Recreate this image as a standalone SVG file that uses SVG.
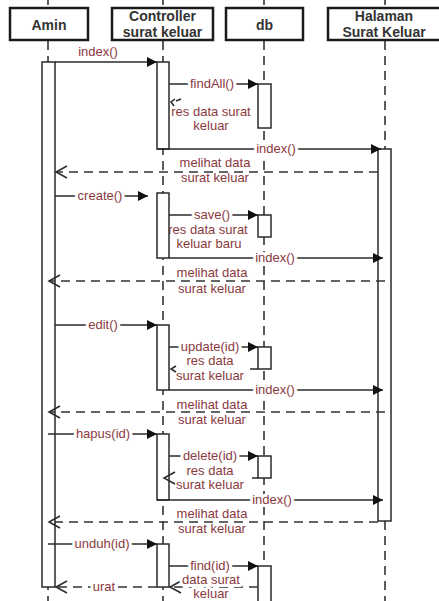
<svg xmlns="http://www.w3.org/2000/svg" width="439" height="601" viewBox="0 0 439 601">
<defs>
<style>
.box{fill:#fff;stroke:#1a1a1a;stroke-width:2.5}
.hd{font-family:"Liberation Sans",Arial,sans-serif;font-size:14px;font-weight:bold;fill:#333;text-anchor:middle}
.life{stroke:#333;stroke-width:1.6;stroke-dasharray:9 6;fill:none}
.act{fill:#fff;stroke:#2a2a2a;stroke-width:1.5}
.msg{stroke:#2a2a2a;stroke-width:1.5;fill:none}
.ret{stroke:#333;stroke-width:1.5;fill:none;stroke-dasharray:9 6}
.lb{font-family:"Liberation Sans",Arial,sans-serif;font-size:13px;fill:#8a3a3e;text-anchor:middle}
.on{paint-order:stroke;stroke:#fff;stroke-width:6px;stroke-linejoin:round}
</style>
<marker id="sync" viewBox="0 0 10 10" refX="10" refY="5" markerWidth="10" markerHeight="10" markerUnits="userSpaceOnUse" orient="auto">
<path d="M0,0 L10,5 L0,10 Z" fill="#111"/>
</marker>
</defs>
<rect width="439" height="601" fill="#fff"/>

<g id="lifelines">
<line class="life" x1="48" y1="0" x2="48" y2="5"/>
<line class="life" x1="163" y1="0" x2="163" y2="5"/>
<line class="life" x1="264" y1="0" x2="264" y2="5"/>
<line class="life" x1="385" y1="0" x2="385" y2="5"/>
<line class="life" x1="48" y1="41" x2="48" y2="601"/>
<line class="life" x1="163" y1="41" x2="163" y2="601"/>
<line class="life" x1="264" y1="41" x2="264" y2="601"/>
<line class="life" x1="385" y1="41" x2="385" y2="601"/>
</g>

<g id="amin">
<rect class="box" x="10" y="8" width="78" height="32"/>
<text class="hd" x="49" y="30">Amin</text>
<rect class="act" x="42" y="62" width="13" height="525"/>
</g>
<g id="controller">
<rect class="box" x="112" y="8" width="101" height="32"/>
<text class="hd" x="162.5" y="21">Controller</text>
<text class="hd" x="162.5" y="37">surat keluar</text>
<rect class="act" x="157" y="62" width="12" height="87"/>
<rect class="act" x="157" y="193" width="12" height="65"/>
<rect class="act" x="157" y="325" width="12" height="65"/>
<rect class="act" x="157" y="434" width="12" height="66"/>
<rect class="act" x="157" y="544" width="12" height="43"/>
</g>
<g id="db">
<rect class="box" x="226" y="8" width="77" height="32"/>
<text class="hd" x="264.5" y="30">db</text>
<rect class="act" x="258" y="84" width="13" height="44"/>
<rect class="act" x="258" y="215" width="13" height="22"/>
<rect class="act" x="258" y="347" width="13" height="22"/>
<rect class="act" x="258" y="456" width="13" height="22"/>
<rect class="act" x="258" y="566" width="13" height="40"/>
</g>
<g id="halaman">
<rect class="box" x="328" y="8" width="114" height="32"/>
<text class="hd" x="384" y="21">Halaman</text>
<text class="hd" x="384" y="37">Surat Keluar</text>
<rect class="act" x="378" y="149" width="13" height="372"/>
</g>

<g id="connectors">
<line class="msg" x1="55" y1="62" x2="157" y2="62" marker-end="url(#sync)"/>
<text class="lb" x="98" y="56">index()</text>

<line class="msg" x1="169" y1="84" x2="258" y2="84" marker-end="url(#sync)"/>
<text class="lb on" x="212" y="88">findAll()</text>
<path class="msg" d="M175,99 L171,102 L174,106"/>
<line class="msg" x1="176" y1="101" x2="181" y2="99"/>
<text class="lb" x="211" y="116">res data surat</text>
<text class="lb" x="211" y="130">keluar</text>

<line class="msg" x1="157" y1="149" x2="381" y2="149" marker-end="url(#sync)"/>
<text class="lb on" x="276" y="153">index()</text>

<line class="ret" x1="378" y1="172" x2="56" y2="172"/>
<path class="msg" d="M67,166 L56,172 L67,178"/>
<text class="lb" x="215" y="167">melihat data</text>
<text class="lb" x="215" y="182">surat keluar</text>

<line class="msg" x1="55" y1="196" x2="148" y2="196" marker-end="url(#sync)"/>
<text class="lb on" x="100" y="200">create()</text>

<line class="msg" x1="169" y1="215" x2="258" y2="215" marker-end="url(#sync)"/>
<text class="lb on" x="212" y="219">save()</text>
<text class="lb" x="208" y="234">res data surat</text>
<text class="lb" x="209" y="248">keluar baru</text>

<line class="msg" x1="169" y1="258" x2="383" y2="258" marker-end="url(#sync)"/>
<text class="lb on" x="275" y="262">index()</text>

<line class="ret" x1="385" y1="281" x2="49" y2="281"/>
<path class="msg" d="M60,275 L49,281 L60,287"/>
<text class="lb" x="212" y="277">melihat data</text>
<text class="lb" x="212" y="293">surat keluar</text>

<line class="msg" x1="55" y1="325" x2="157" y2="325" marker-end="url(#sync)"/>
<text class="lb on" x="103" y="329">edit()</text>

<line class="msg" x1="169" y1="347" x2="258" y2="347" marker-end="url(#sync)"/>
<text class="lb on" x="210" y="351">update(id)</text>
<path class="msg" d="M176,366 L171,369 L176,372"/>
<line class="msg" x1="250" y1="369" x2="258" y2="369"/>
<text class="lb" x="210" y="365">res data</text>
<text class="lb" x="210" y="380">surat keluar</text>

<line class="msg" x1="169" y1="390" x2="383" y2="390" marker-end="url(#sync)"/>
<text class="lb on" x="275" y="394">index()</text>

<line class="ret" x1="385" y1="412" x2="49" y2="412"/>
<path class="msg" d="M60,406 L49,412 L60,418"/>
<text class="lb" x="212" y="409">melihat data</text>
<text class="lb" x="212" y="424">surat keluar</text>

<line class="msg" x1="48" y1="434" x2="157" y2="434" marker-end="url(#sync)"/>
<text class="lb on" x="103" y="438">hapus(id)</text>

<line class="msg" x1="169" y1="456" x2="258" y2="456" marker-end="url(#sync)"/>
<text class="lb on" x="210" y="460">delete(id)</text>
<path class="msg" d="M175,472 L164,478 L175,484"/>
<line class="msg" x1="252" y1="478" x2="258" y2="478"/>
<text class="lb" x="210" y="475">res data</text>
<text class="lb" x="210" y="489">surat keluar</text>

<line class="msg" x1="157" y1="500" x2="383" y2="500" marker-end="url(#sync)"/>
<text class="lb on" x="272" y="504">index()</text>

<line class="ret" x1="378" y1="522" x2="49" y2="522"/>
<path class="msg" d="M60,516 L49,522 L60,528"/>
<text class="lb" x="212" y="518">melihat data</text>
<text class="lb" x="212" y="533">surat keluar</text>

<line class="msg" x1="48" y1="544" x2="157" y2="544" marker-end="url(#sync)"/>
<text class="lb on" x="102" y="548">unduh(id)</text>

<line class="msg" x1="169" y1="566" x2="258" y2="566" marker-end="url(#sync)"/>
<text class="lb on" x="210" y="570">find(id)</text>

<line class="ret" x1="258" y1="587" x2="170" y2="587"/>
<path class="msg" d="M181,581 L170,587 L181,593"/>
<text class="lb on" x="211" y="584">data surat</text>
<text class="lb on" x="211" y="598">keluar</text>

<line class="ret" x1="157" y1="587" x2="56" y2="587"/>
<path class="msg" d="M67,581 L56,587 L67,593"/>
<text class="lb on" x="104" y="591">urat</text>
</g>
</svg>
